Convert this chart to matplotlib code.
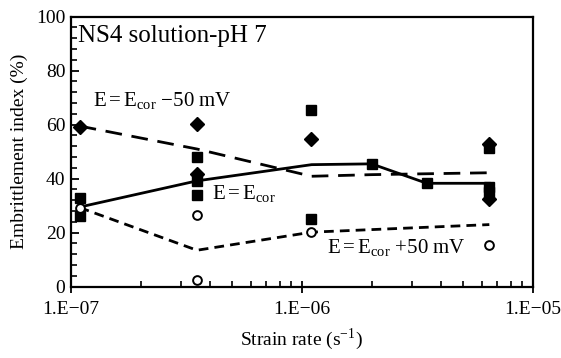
import matplotlib
matplotlib.use("Agg")
from matplotlib import pyplot as plt
from matplotlib.ticker import LogLocator, MultipleLocator, FixedLocator, FixedFormatter, NullFormatter

plt.rcParams['font.family'] = ['Liberation Serif', 'DejaVu Serif']
plt.rcParams['mathtext.fontset'] = 'stix'

# measured points, E = Ecor - 50 mV (diamonds)
rate_neg = [1.09e-7, 3.51e-7, 3.51e-7, 1.09e-6, 6.47e-6, 6.47e-6]
ei_neg = [59.2, 60.2, 41.8, 54.6, 52.8, 32.5]

# measured points, E = Ecor (squares)
rate_cor = [1.09e-7, 1.09e-7, 3.51e-7, 3.51e-7, 3.51e-7, 1.09e-6, 1.09e-6,
            2.0e-6, 3.47e-6, 6.47e-6, 6.47e-6, 6.47e-6]
ei_cor = [33.0, 26.2, 48.0, 39.0, 34.0, 65.3, 25.2, 45.6, 38.4, 51.5, 37.0, 35.0]

# measured points, E = Ecor + 50 mV (open circles)
rate_pos = [1.09e-7, 3.51e-7, 3.51e-7, 1.09e-6, 6.47e-6]
ei_pos = [29.3, 26.4, 2.5, 20.2, 15.5]

# trend lines
trend_neg_x = [1.09e-7, 3.51e-7, 1.1e-6, 2.0e-6, 6.47e-6]
trend_neg_y = [59.5, 51.0, 40.9, 41.5, 42.2]
trend_cor_x = [1.09e-7, 3.51e-7, 1.1e-6, 2.0e-6, 3.47e-6, 6.47e-6]
trend_cor_y = [29.5, 39.2, 45.2, 45.5, 38.3, 38.3]
trend_pos_x = [1.09e-7, 3.51e-7, 1.1e-6, 6.47e-6]
trend_pos_y = [29.3, 13.5, 20.2, 23.0]

xtick_vals = [1e-7, 1e-6, 1e-5]
xtick_labels = ['1.E\u221207', '1.E\u221206', '1.E\u221205']

fig = plt.figure(figsize=(5.61, 3.58), dpi=100)
ax = fig.add_axes([71/561, 1 - 286.7/358, 462/561, 270/358])

ax.plot(trend_neg_x, trend_neg_y, color='black', lw=2.0, dashes=(6, 3.5), zorder=2)
ax.plot(trend_cor_x, trend_cor_y, color='black', lw=2.0, zorder=2)
ax.plot(trend_pos_x, trend_pos_y, color='black', lw=2.0, dashes=(3.5, 2.2), zorder=2)

ax.plot(rate_neg, ei_neg, 'D', color='black', ms=7.2, ls='none', zorder=3)
ax.plot(rate_cor, ei_cor, 's', color='black', ms=7, ls='none', zorder=3)
ax.plot(rate_pos, ei_pos, 'o', mfc='white', mec='black', mew=1.4, ms=6.3, ls='none', zorder=4)

ax.set_xscale('log')
ax.set_xlim(1e-7, 1e-5)
ax.set_ylim(0, 100)
ax.xaxis.set_major_locator(FixedLocator(xtick_vals))
ax.xaxis.set_major_formatter(FixedFormatter(xtick_labels))
ax.xaxis.set_minor_locator(LogLocator(base=10, subs=range(2, 10)))
ax.xaxis.set_minor_formatter(NullFormatter())
ax.yaxis.set_major_locator(MultipleLocator(20))
ax.yaxis.set_minor_locator(MultipleLocator(4))

ax.tick_params(axis='x', which='major', direction='inout', length=9, width=1.3,
               labelsize=14, pad=6)
ax.tick_params(axis='x', which='minor', direction='in', length=4, width=1.2)
ax.tick_params(axis='y', which='major', direction='in', length=6, width=1.3,
               labelsize=14, pad=4)
ax.tick_params(axis='y', which='minor', direction='in', length=4, width=1.2)
for side in ax.spines.values():
    side.set_linewidth(1.6)

ax.set_xlabel(r'Strain rate (s$^{\mathregular{-1}}$)', fontsize=14, labelpad=6)
ax.set_ylabel('Embrittlement index (%)', fontsize=14, labelpad=6)

ax.text(0.015, 0.97, 'NS4 solution-pH 7', transform=ax.transAxes,
        fontsize=18, ha='left', va='top')
ax.text(0.048, 0.69, r'$\mathregular{E = E_{cor}}$ ' + '\u221250 mV',
        transform=ax.transAxes, fontsize=15, ha='left', va='center')
ax.text(0.305, 0.345, r'$\mathregular{E = E_{cor}}$', transform=ax.transAxes,
        fontsize=15, ha='left', va='center')
ax.text(0.555, 0.145, r'$\mathregular{E = E_{cor}}$ +50 mV', transform=ax.transAxes,
        fontsize=15, ha='left', va='center')

fig.savefig('out.png', dpi=100)
